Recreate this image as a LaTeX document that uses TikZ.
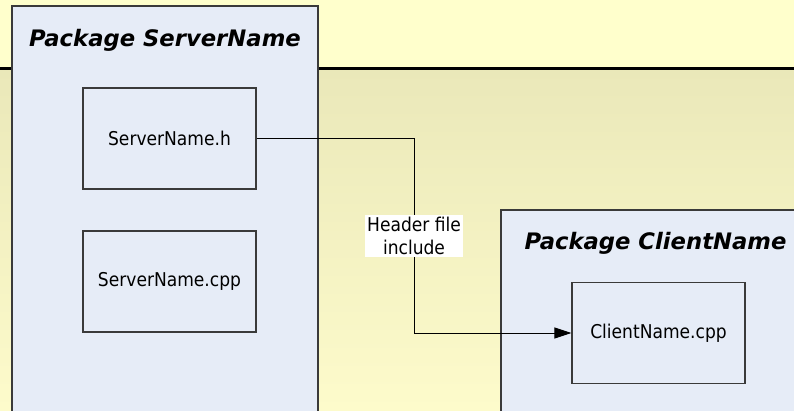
\documentclass[tikz,border=0pt]{standalone}
\usepackage{fontspec}
\setmainfont{DejaVu Sans Condensed}
\newfontfamily\titlefont{DejaVu Sans}
\usetikzlibrary{arrows.meta}

\definecolor{topband}{HTML}{FFFFCC}
\definecolor{laneTop}{HTML}{EAE8B9}
\definecolor{laneBot}{HTML}{FDFBCB}
\definecolor{pkgfill}{HTML}{E6ECF7}
\definecolor{edge}{HTML}{3A3A3A}

\tikzset{
  pkgbox/.style={draw=edge, line width=1.2pt, fill=pkgfill, rectangle, inner sep=0pt},
  filebox/.style={draw=edge, line width=1.2pt, fill=pkgfill, rectangle, inner sep=0pt,
    minimum width=173pt, minimum height=101pt, font=\fontsize{19}{22}\selectfont},
  pkgtitle/.style={font=\titlefont\bfseries\itshape\fontsize{22.7}{26}\selectfont, inner sep=0pt},
  depline/.style={line width=1pt, -{Triangle[length=17pt, width=11pt]}},
  edgelabel/.style={fill=white, inner sep=2pt, align=center,
    font=\fontsize{19}{23}\selectfont}
}

\begin{document}
\begin{tikzpicture}[x=1pt, y=-1pt]
  \useasboundingbox (0,0) rectangle (794,410);
  \clip (0,0) rectangle (794,410);

  % swimlane background
  \fill[topband] (0,0) rectangle (794,68);
  \shade[top color=laneTop, bottom color=laneBot] (0,69) rectangle (794,410);
  \draw[line width=2.5pt, black] (0,68.5) -- (794,68.5);

  % packages
  \node[pkgbox, minimum width=306pt, minimum height=412pt] (srvpkg) at (165,212) {};
  \node[pkgtitle] (srvtitle) at (165,40) {Package ServerName};

  \node[pkgbox, minimum width=300pt, minimum height=206pt] (clipkg) at (651,313) {};
  \node[pkgtitle] (clititle) at (655.5,243) {Package ClientName};

  % files
  \node[filebox] (srvh) at (169.5,138.5) {ServerName.h};
  \node[filebox] (srvcpp) at (169.5,281.5) {ServerName.cpp};
  \node[filebox] (clicpp) at (658.5,333) {ClientName.cpp};

  % include dependency
  \coordinate (bend) at (414,138.5);
  \draw[depline] (srvh.east) -- (bend) |- (clicpp.west);
  \node[edgelabel] (inclabel) at (414,236) {Header file\\include};
\end{tikzpicture}
\end{document}
